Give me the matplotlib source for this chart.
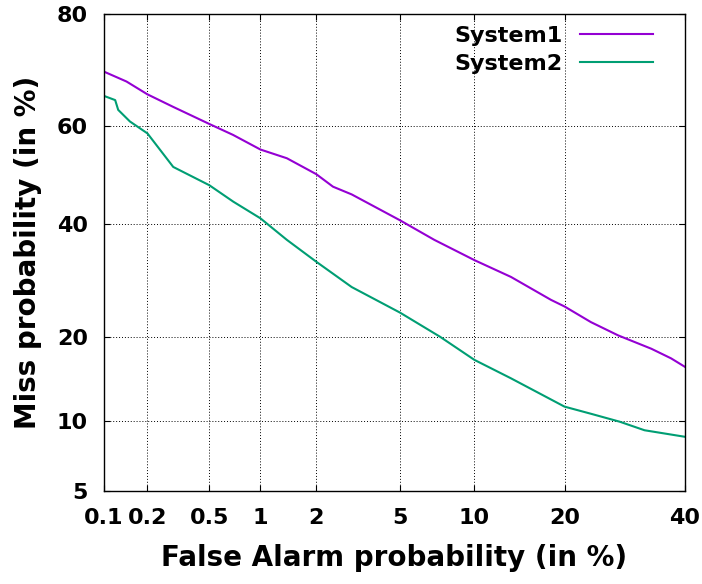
import numpy as np
import matplotlib
matplotlib.use('Agg')
import matplotlib.pyplot as plt
from statistics import NormalDist

# DET curves, values in percent
sys1_fa = [0.1, 0.144, 0.2, 0.295, 0.5, 0.694, 1.0, 1.40, 2.0, 2.43, 3.0, 5.0,
           6.98, 10, 13.5, 18.2, 20, 23.8, 28.1, 33.8, 37.4, 40]
sys1_miss = [70.5, 68.7, 66.3, 63.9, 60.5, 58.3, 55.3, 53.5, 50.2, 47.6, 46.0, 40.7,
             36.8, 32.9, 29.8, 25.8, 24.7, 22.2, 20.2, 18.3, 17.0, 15.9]

sys2_fa = [0.1, 0.12, 0.126, 0.152, 0.2, 0.296, 0.5, 0.697, 1.0, 1.40, 2.0, 3.0,
           5.0, 7.36, 10, 13.5, 20, 23.8, 28.4, 32.6, 40]
sys2_miss = [66.0, 65.2, 63.3, 61.0, 58.6, 51.7, 47.9, 44.5, 41.1, 36.8, 32.6, 28.0,
             23.7, 20.0, 16.8, 14.5, 11.4, 10.7, 9.95, 9.2, 8.65]

x_ticks = [0.1, 0.2, 0.5, 1, 2, 5, 10, 20, 40]
y_ticks = [5, 10, 20, 40, 60, 80]

nd = NormalDist()
_ppf = np.vectorize(nd.inv_cdf, otypes=[float])
_cdf = np.vectorize(nd.cdf, otypes=[float])


def probit(p):
    p = np.clip(np.asarray(p, dtype=float) / 100.0, 1e-9, 1 - 1e-9)
    return _ppf(p)


def inv_probit(z):
    return _cdf(np.asarray(z, dtype=float)) * 100.0


plt.rcParams['font.family'] = ['DejaVu Sans']
plt.rcParams['font.weight'] = 'bold'

fig = plt.figure(figsize=(7.02, 5.84), dpi=100)
ax = fig.add_axes([104 / 702, 1 - 491 / 584, 581 / 702, 477.5 / 584])

# normal deviate (probit) scales on both axes
ax.set_xscale('function', functions=(probit, inv_probit))
ax.set_yscale('function', functions=(probit, inv_probit))

ax.plot(sys1_fa, sys1_miss, color='#9400d3', lw=1.5, label='System1')
ax.plot(sys2_fa, sys2_miss, color='#009e73', lw=1.5, label='System2')

ax.set_xlim(0.1, 40)
ax.set_ylim(5, 80)
ax.set_xticks(x_ticks)
ax.set_xticklabels([str(t) for t in x_ticks])
ax.set_yticks(y_ticks)
ax.set_yticklabels([str(t) for t in y_ticks])
ax.minorticks_off()

ax.tick_params(direction='in', length=4.5, width=0.8, top=True, right=True,
               labelsize=16)
ax.tick_params(axis='x', pad=12)
ax.tick_params(axis='y', pad=11.5)
ax.grid(True, color='black', linestyle=(0, (1, 2)), linewidth=0.7)
for s in ax.spines.values():
    s.set_linewidth(1.0)

ax.set_xlabel('False Alarm probability (in %)', fontsize=20, fontweight='bold', labelpad=12)
ax.set_ylabel('Miss probability (in %)', fontsize=20, fontweight='bold', labelpad=11)

ax.legend(loc='upper right', bbox_to_anchor=(653 / 702, 1 - 26 / 584),
          bbox_transform=fig.transFigure, frameon=False, markerfirst=False,
          fontsize=16, handlelength=3.3, handletextpad=0.77, labelspacing=0.36,
          borderpad=0, borderaxespad=0)

fig.savefig('out.png', dpi=100)
